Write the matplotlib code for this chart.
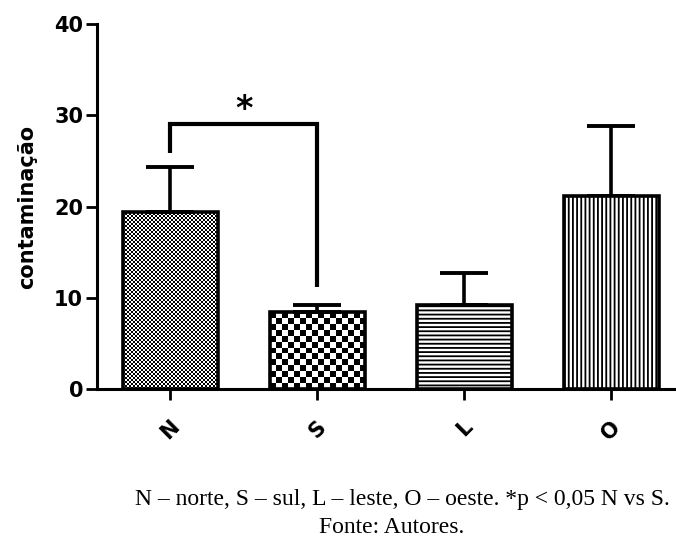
import matplotlib.pyplot as plt
import numpy as np

# data
regions = ["N", "S", "L", "O"]
means = [19.4, 8.4, 9.2, 21.1]
errs = [4.9, 0.8, 3.5, 7.7]
bracket = [25.9, 29.0, 11.2]   # left end, top, right end
y_ticks = [0, 10, 20, 30, 40]
caption1 = "N – norte, S – sul, L – leste, O – oeste. *p < 0,05 N vs S."
caption2 = "Fonte: Autores."

plt.rcParams['hatch.linewidth'] = 1.3
fig = plt.figure(figsize=(6.76, 5.37), dpi=100)
ax = fig.add_axes([0.1435, 0.2756, 0.8565, 0.6797])

x = np.arange(len(regions))
bars = ax.bar(x, means, width=0.65, facecolor='white', edgecolor='black',
              linewidth=2.6, zorder=3)
bars[0].set_facecolor('none')
bars[1].set_facecolor('none')
bars[2].set_hatch('----')
bars[3].set_hatch('||||')

ax.errorbar(x, means, yerr=[np.zeros(len(errs)), errs], fmt='none',
            ecolor='black', elinewidth=2.6, capsize=17, capthick=2.8, zorder=2)

ax.set_xlim(-0.5, 3.44)
ax.set_ylim(0, 40)

# checker textures for N and S, clipped to the bars
fig.canvas.draw()
for patch, cell in [(bars[0], 2.0), (bars[1], 6.0)]:
    bb = patch.get_bbox()
    p0 = ax.transData.transform((bb.x0, bb.y0))
    p1 = ax.transData.transform((bb.x1, bb.y1))
    nx = int(round((p1[0] - p0[0]) / cell))
    ny = int(round((p1[1] - p0[1]) / cell))
    tex = (np.add.outer(np.arange(ny), np.arange(nx)) % 2).astype(float)
    im = ax.imshow(tex, cmap='gray', vmin=0, vmax=1, extent=(bb.x0, bb.x1, bb.y0, bb.y1),
                   interpolation='nearest', aspect='auto', zorder=1)
    im.set_clip_path(patch)
ax.set_xlim(-0.5, 3.44)
ax.set_ylim(0, 40)

# significance bracket
ax.plot([x[0], x[0], x[1], x[1]], [bracket[0], bracket[1], bracket[1], bracket[2]],
        color='black', linewidth=3, solid_capstyle='butt', solid_joinstyle='miter')
ax.text((x[0] + x[1]) / 2, bracket[1] + 1.6, "*", ha='center', va='center',
        fontsize=24, fontweight='bold', family='DejaVu Sans')

for s in ['top', 'right']:
    ax.spines[s].set_visible(False)
for s in ['left', 'bottom']:
    ax.spines[s].set_linewidth(2.2)

ax.set_yticks(y_ticks)
ax.set_yticklabels([str(v) for v in y_ticks], fontsize=15, fontweight='bold',
                   family='DejaVu Sans')
ax.set_xticks(x)
ax.set_xticklabels(regions, rotation=45, fontsize=15, fontweight='bold',
                   family='DejaVu Sans', ha='center', va='top')
ax.tick_params(axis='both', width=2, length=8)
ax.tick_params(axis='x', pad=12)
ax.tick_params(axis='y', pad=2)
ax.set_ylabel("contaminação", fontsize=15, fontweight='bold', family='DejaVu Sans',
              labelpad=12)

fig.text(402 / 676, 1 - 505 / 537, caption1, ha='center', va='baseline',
         fontsize=17, family='Liberation Serif')
fig.text(392 / 676, 1 - 533 / 537, caption2, ha='center', va='baseline',
         fontsize=17, family='Liberation Serif')

fig.savefig("out.png", dpi=100)
